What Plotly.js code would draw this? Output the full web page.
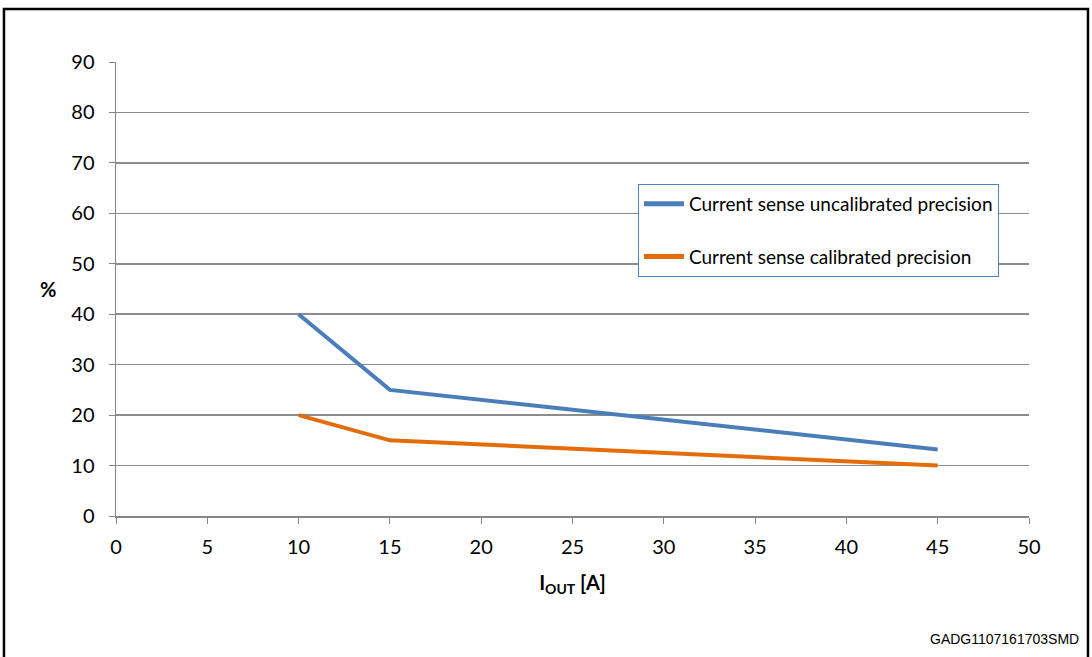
<!DOCTYPE html>
<html><head><meta charset="utf-8">
<script src="https://cdn.plot.ly/plotly-3.0.1.min.js"></script>
<style>html,body{margin:0;padding:0;background:#fff}#c{width:1092px;height:657px}</style>
</head><body><div id="c"></div>
<script>
const currentA = [10, 15, 45];
const uncalibrated = [40, 25, 13.2];
const calibrated = [20, 15, 10];
const seriesNames = ["Current sense uncalibrated precision", "Current sense calibrated precision"];
const xTicks = [0, 5, 10, 15, 20, 25, 30, 35, 40, 45, 50];
const yTicks = [0, 10, 20, 30, 40, 50, 60, 70, 80, 90];

const font = "Lato, 'Open Sans', sans-serif";
const traces = [
  {x: currentA, y: uncalibrated, name: seriesNames[0], legendgroup: "a", mode: "lines", line: {color: "#4a7ebb", width: 4}},
  {x: currentA, y: calibrated, name: seriesNames[1], legendgroup: "b", mode: "lines", line: {color: "#e46c0a", width: 4}}
];
const layout = {
  width: 1092, height: 657,
  margin: {l: 116, r: 63, t: 62, b: 141},
  paper_bgcolor: "#fff", plot_bgcolor: "#fff",
  font: {family: font, size: 20, color: "#000"},
  showlegend: true,
  legend: {x: 0.5717, y: 0.7313, xanchor: "left", yanchor: "top",
    bordercolor: "#4f81bd", borderwidth: 1, bgcolor: "#fff",
    font: {family: font, size: 19}, tracegroupgap: 25, itemwidth: 40,
    itemsizing: "constant", traceorder: "grouped"},
  xaxis: {range: [0, 50], tickvals: xTicks, showgrid: false, zeroline: false,
    showline: true, linecolor: "#868686", linewidth: 1.5, ticks: "outside", ticklen: 6, tickcolor: "#868686",
    tickfont: {family: font, size: 20}, ticklabelstandoff: 6, fixedrange: true,
    title: {text: "<b>I<sub>OUT</sub> [A]</b>", font: {family: font, size: 20}, standoff: 19}},
  yaxis: {range: [0, 90], tickvals: yTicks, showgrid: true, gridcolor: "#8c8c8c", gridwidth: 1.5,
    zeroline: false, showline: true, linecolor: "#868686", linewidth: 1.5, ticks: "outside", ticklen: 6,
    tickcolor: "#868686", tickfont: {family: font, size: 20}, ticklabelstandoff: 10, fixedrange: true},
  shapes: [
    {type: "rect", xref: "paper", yref: "paper", x0: -0.1227, x1: 1.0646, y0: -0.34, y1: 1.1167,
     line: {color: "#000", width: 2.5}, fillcolor: "rgba(0,0,0,0)", layer: "above"}
  ],
  annotations: [
    {xref: "paper", yref: "paper", x: -0.074, y: 0.5, text: "<b>%</b>", showarrow: false,
     font: {family: font, size: 20}, xanchor: "center", yanchor: "middle"},
    {xref: "paper", yref: "paper", x: 1.057, y: -0.272, text: "GADG1107161703SMD", showarrow: false,
     font: {family: "Liberation Sans, Arial, sans-serif", size: 14}, xanchor: "right", yanchor: "middle"}
  ]
};
Plotly.newPlot("c", traces, layout, {displayModeBar: false, staticPlot: true});
</script></body></html>
